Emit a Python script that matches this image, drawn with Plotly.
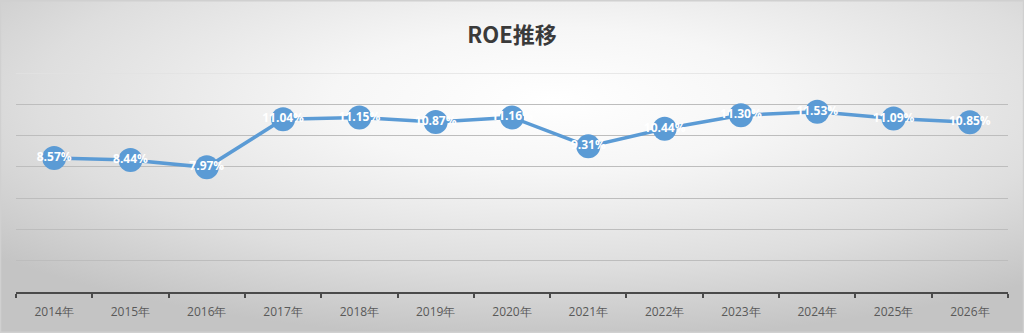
import plotly.graph_objects as go
import urllib.parse

years = ["2014年", "2015年", "2016年", "2017年", "2018年", "2019年", "2020年",
         "2021年", "2022年", "2023年", "2024年", "2025年", "2026年"]
roe = [8.57, 8.44, 7.97, 11.04, 11.15, 10.87, 11.16, 9.31, 10.44, 11.30, 11.53, 11.09, 10.85]

W, H = 1024, 333
ml, mr, mt, mb = 16, 16, 73, 41
pw, ph = W - ml - mr, H - mt - mb

svg = ('<svg xmlns="http://www.w3.org/2000/svg" width="1024" height="333" viewBox="0 0 1024 333" preserveAspectRatio="none">'
       '<defs><radialGradient id="g" cx="0.54" cy="0.3" r="0.72" gradientUnits="objectBoundingBox">'
       '<stop offset="0" stop-color="#ffffff"/><stop offset="0.3" stop-color="#f6f6f6"/>'
       '<stop offset="0.7" stop-color="#dedede"/>'
       '<stop offset="1" stop-color="#c4c4c4"/></radialGradient></defs>'
       '<rect x="0" y="0" width="1024" height="333" fill="url(#g)"/></svg>')
src = "data:image/svg+xml;charset=utf-8," + urllib.parse.quote(svg)

fig = go.Figure()
fig.add_trace(go.Scatter(
    x=years, y=roe, mode="lines+markers+text",
    line=dict(color="#5b9bd5", width=3.5),
    marker=dict(size=24, color="#5b9bd5"),
    texttemplate="<b>%{y:.2f}%</b>", textposition="middle center",
    textfont=dict(color="#ffffff", size=12, family="Open Sans"),
    cliponaxis=False, hoverinfo="skip", showlegend=False,
))

fig.update_layout(
    width=W, height=H,
    margin=dict(l=ml, r=mr, t=mt, b=mb),
    paper_bgcolor="#ffffff", plot_bgcolor="rgba(0,0,0,0)",
    title=dict(text="<b>ROE推移</b>", x=0.5, xanchor="center", xref="paper",
               y=1 - 35 / H, yanchor="middle", yref="container",
               font=dict(size=22, color="#3a3a3a", family="Noto Sans CJK JP")),
    images=[dict(source=src, xref="paper", yref="paper",
                 x=-ml / pw, y=1 + mt / ph, sizex=W / pw, sizey=H / ph,
                 xanchor="left", yanchor="top", sizing="stretch", layer="below")],
    shapes=[
        dict(type="rect", xref="paper", yref="paper",
             x0=-ml / pw + 0.0005, x1=1 + mr / pw - 0.0005,
             y0=-mb / ph + 0.003, y1=1 + mt / ph - 0.003,
             line=dict(color="#d0d0d0", width=1.5), layer="below"),
        dict(type="line", xref="paper", yref="y", x0=0, x1=1, y0=14, y1=14,
             line=dict(color="#e2e2e2", width=1.5), layer="below"),
    ],
    xaxis=dict(type="category", range=[-0.5, 12.5], showgrid=False,
               showline=True, linecolor="#4a4a4a", linewidth=1.5,
               ticks="outside", tickson="boundaries", ticklen=4, tickcolor="#4a4a4a", tickwidth=1.5,
               ticklabelstandoff=8,
               tickfont=dict(size=12, color="#595959", family="Open Sans"), fixedrange=True),
    yaxis=dict(range=[0, 14], dtick=2, showgrid=True, gridcolor="#bdbdbd", gridwidth=1.2,
               showticklabels=False, zeroline=False, showline=False, fixedrange=True),
)

fig.write_html("out.html")
